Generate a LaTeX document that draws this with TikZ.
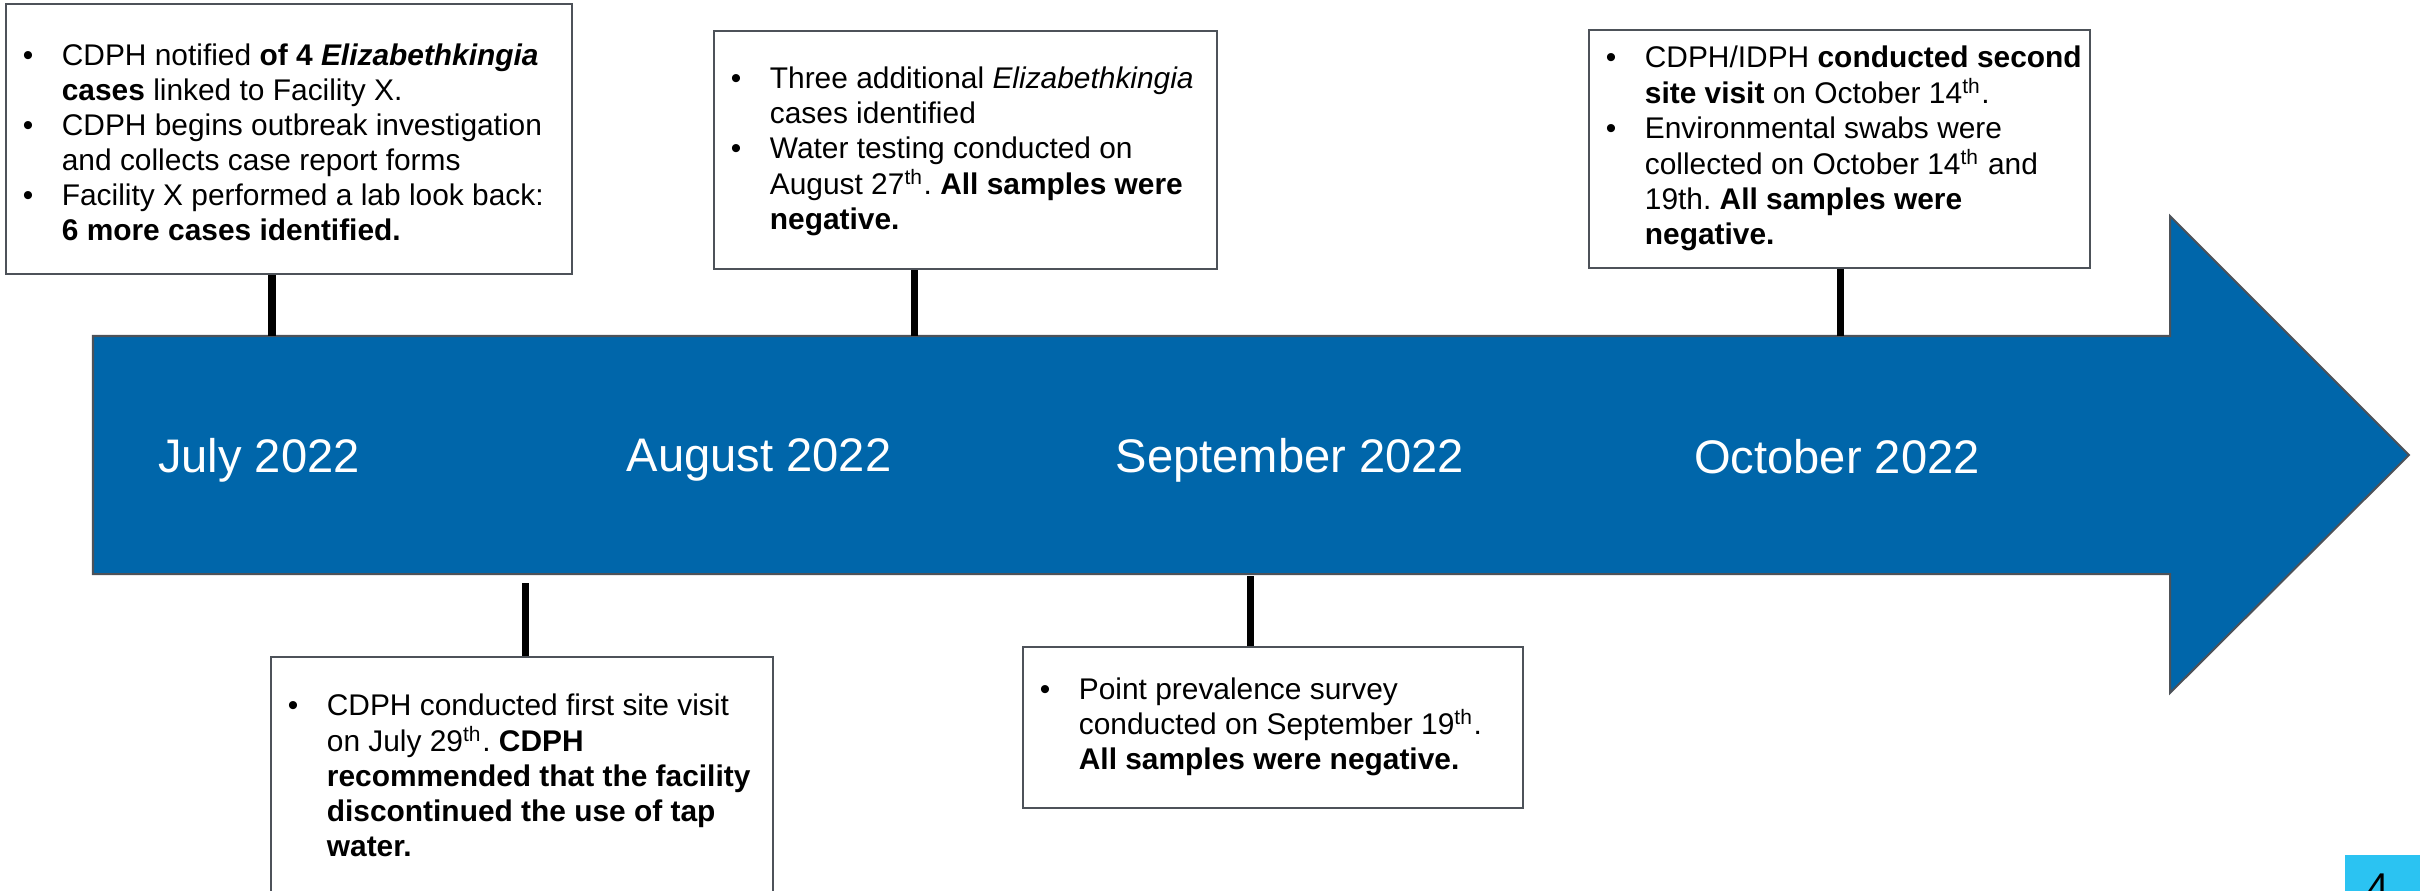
\documentclass[tikz,border=0pt]{standalone}
\usepackage{fontspec}
\setmainfont{Liberation Sans}
\usetikzlibrary{positioning}
\frenchspacing

\definecolor{arrowblue}{HTML}{0066AA}
\definecolor{edgegray}{HTML}{4D5259}
\definecolor{pagecyan}{HTML}{2BC3F2}
\newcommand{\evlist}[3][0cm]{\raisebox{-#1}[\height][\depth]{\makebox[#2][l]{%
  \begin{tabular}{@{}p{0.39cm}@{}l@{}}#3\end{tabular}}}}

\tikzset{
  event/.style={draw=edgegray,line width=0.025cm,fill=white,inner xsep=0.17cm,inner ysep=0pt,
    font=\fontsize{8.5}{9.96}\selectfont},
  month/.style={text=white,inner sep=0pt,font=\fontsize{13.4}{16}\selectfont},
  tick/.style={line width=0.07cm,black}
}

\begin{document}
\begin{tikzpicture}[x=0.01cm,y=-0.01cm]
	\useasboundingbox (0,0) rectangle (2420,891);
	\clip (0,0) rectangle (2420,891);
	% timeline arrow
	\draw[fill=arrowblue,draw=edgegray,line width=0.02cm]
	  (93,336) -- (2170,336) -- (2170,216) -- (2409,455) -- (2170,693) -- (2170,574) -- (93,574) -- cycle;
	\node[month] (jul) at (259,460) {July 2022};
	\node[month] (aug) at (759,460) {August 2022};
	\node[month] (sep) at (1290,460) {September 2022};
	\node[month] (oct) at (1837,457) {October 2022};
	% events above
	\node[event,minimum height=2.70cm] (ev1) at (289,139) {\evlist[0.07cm]{5.32cm}{
	  \textbullet & CDPH notified \textbf{of 4 \textit{Elizabethkingia}}\\
	  & \textbf{cases} linked to Facility X.\\
	  \textbullet & CDPH begins outbreak investigation\\
	  & and collects case report forms\\
	  \textbullet & Facility X performed a lab look back:\\
	  & \textbf{6 more cases identified.}}};
	\node[event,minimum height=2.38cm] (ev2) at (965.5,150) {\evlist[0.02cm]{4.69cm}{
	  \textbullet & Three additional \textit{Elizabethkingia}\\
	  & cases identified\\
	  \textbullet & Water testing conducted on\\
	  & August 27\textsuperscript{th}. \textbf{All samples were}\\
	  & \textbf{negative.}}};
	\node[event,minimum height=2.38cm] (ev3) at (1839.5,149) {\evlist{4.67cm}{
	  \textbullet & CDPH/IDPH \textbf{conducted second}\\
	  & \textbf{site visit} on October 14\textsuperscript{th}.\\
	  \textbullet & Environmental swabs were\\
	  & collected on October 14\textsuperscript{th} and\\
	  & 19th. \textbf{All samples were}\\
	  & \textbf{negative.}}};
	% events below
	\node[event,minimum height=2.40cm] (ev4) at (522,777) {\evlist[0.02cm]{4.68cm}{
	  \textbullet & CDPH conducted first site visit\\
	  & on July 29\textsuperscript{th}. \textbf{CDPH}\\
	  & \textbf{recommended that the facility}\\
	  & \textbf{discontinued the use of tap}\\
	  & \textbf{water.}}};
	\node[event,minimum height=1.61cm] (ev5) at (1273,727.5) {\evlist{4.66cm}{
	  \textbullet & Point prevalence survey\\
	  & conducted on September 19\textsuperscript{th}.\\
	  & \textbf{All samples were negative.}}};
	\coordinate (m1) at (272,336);
	\coordinate (m2) at (914,336);
	\coordinate (m3) at (1840,336);
	\coordinate (m4) at (525,583);
	\coordinate (m5) at (1250,576);
	\path[tick]
	  (m1) edge (m1 |- ev1.south)
	  (m2) edge (m2 |- ev2.south)
	  (m3) edge (m3 |- ev3.south)
	  (m4) edge (m4 |- ev4.north)
	  (m5) edge (m5 |- ev5.north);
	% page number
	\fill[pagecyan] (2345,855) rectangle (2430,900);
	\node[anchor=north,inner sep=0pt,font=\fontsize{11}{13}\selectfont] (pg) at (2378,873) {4};
\end{tikzpicture}
\end{document}
